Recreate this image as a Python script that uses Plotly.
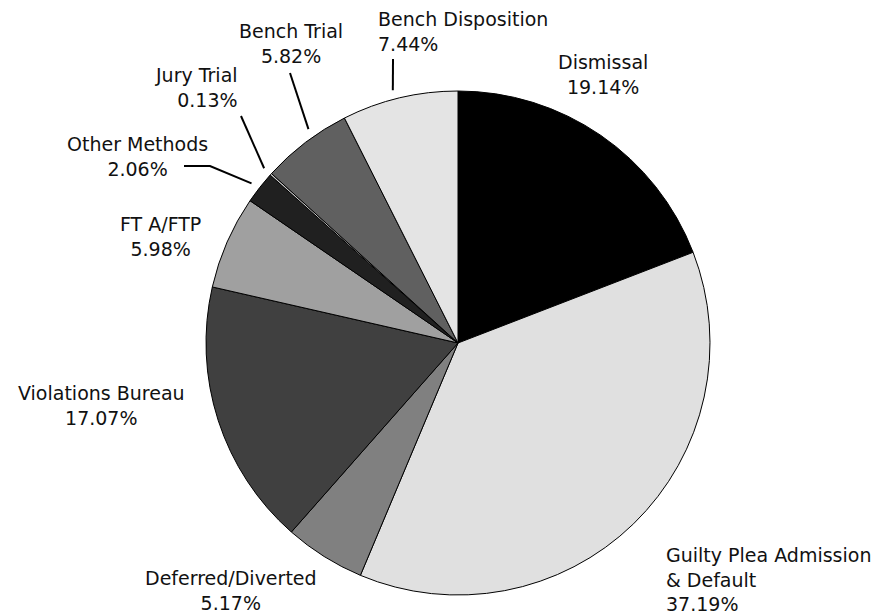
import math
import plotly.graph_objects as go

# ---- data ----
categories = ["Dismissal", "Guilty Plea Admission & Default", "Deferred/Diverted",
              "Violations Bureau", "FTA/FTP", "Other Methods", "Jury Trial",
              "Bench Trial", "Bench Disposition"]
percents = [19.14, 37.19, 5.17, 17.07, 5.98, 2.06, 0.13, 5.82, 7.44]
label_lines = [["Dismissal"], ["Guilty Plea Admission", "& Default"], ["Deferred/Diverted"],
               ["Violations Bureau"], ["FT A/FTP"], ["Other Methods"], ["Jury Trial"],
               ["Bench Trial"], ["Bench Disposition"]]

# ---- styling / layout ----
colors = ["#000000", "#e0e0e0", "#808080", "#404040", "#a0a0a0", "#202020",
          "#c8c8c8", "#606060", "#e4e4e4"]
W, H = 888, 616
CX, CY, R = 458, 343, 252          # pie centre / radius in pixels
FONT = "DejaVu Sans"
FS = 19

# label placement (pixel anchor, xanchor) per category
label_pos = {
    "Dismissal": (603, 75, "center"),
    "Guilty Plea Admission & Default": (665, 579, "left"),
    "Deferred/Diverted": (231, 590, "center"),
    "Violations Bureau": (101, 405, "center"),
    "FTA/FTP": (160, 237, "center"),
    "Other Methods": (137, 156, "center"),
    "Jury Trial": (239, 87, "right"),
    "Bench Trial": (291, 44, "center"),
    "Bench Disposition": (377, 31, "left"),
}
# leader lines: outer point(s) in pixels, and where along the slice the inner end sits
leaders = {
    "Bench Disposition": ([(393, 59)], 0.46),
    "Bench Trial": ([(290, 73)], 0.61),
    "Jury Trial": ([(241, 116)], 0.5),
    "Other Methods": ([(184, 166), (210, 166)], 0.45),
}

fig = go.Figure(go.Pie(
    labels=categories, values=percents, sort=False, direction="clockwise",
    rotation=0, textinfo="none", hoverinfo="label+percent",
    marker=dict(colors=colors, line=dict(color="#000000", width=1)),
    domain=dict(x=[(CX - R) / W, (CX + R) / W],
                y=[(H - CY - R) / H, (H - CY + R) / H]),
    showlegend=False,
))

annotations = []
for cat, pct, lines in zip(categories, percents, label_lines):
    x, y, anchor = label_pos[cat]
    text = "<br>".join(lines + [f"{pct:.2f}%"])
    annotations.append(dict(x=x / W, y=1 - y / H, xref="paper", yref="paper", text=text,
                            showarrow=False, xanchor=anchor, yanchor="middle",
                            align=anchor, borderpad=0,
                            font=dict(family=FONT, size=FS, color="#111111")))

shapes = []
total = sum(percents)
cum = 0.0
starts = {}
for cat, pct in zip(categories, percents):
    starts[cat] = cum
    cum += pct
for cat, (pts, frac) in leaders.items():
    i = categories.index(cat)
    a = (starts[cat] + percents[i] * frac) / total * 2 * math.pi
    rr = R + 9
    ix, iy = CX + rr * math.sin(a), CY - rr * math.cos(a)
    path_pts = pts + [(ix, iy)]
    d = "M " + " L ".join(f"{p[0] / W:.5f},{1 - p[1] / H:.5f}" for p in path_pts)
    shapes.append(dict(type="path", path=d, xref="paper", yref="paper",
                       line=dict(color="#000000", width=2)))

fig.update_layout(
    width=W, height=H, margin=dict(l=0, r=0, t=0, b=0),
    paper_bgcolor="white", plot_bgcolor="white",
    annotations=annotations, shapes=shapes,
)
fig.write_html("out.html", config={"displayModeBar": False},
               post_script="document.body.style.margin='0';document.body.style.padding='0';")
